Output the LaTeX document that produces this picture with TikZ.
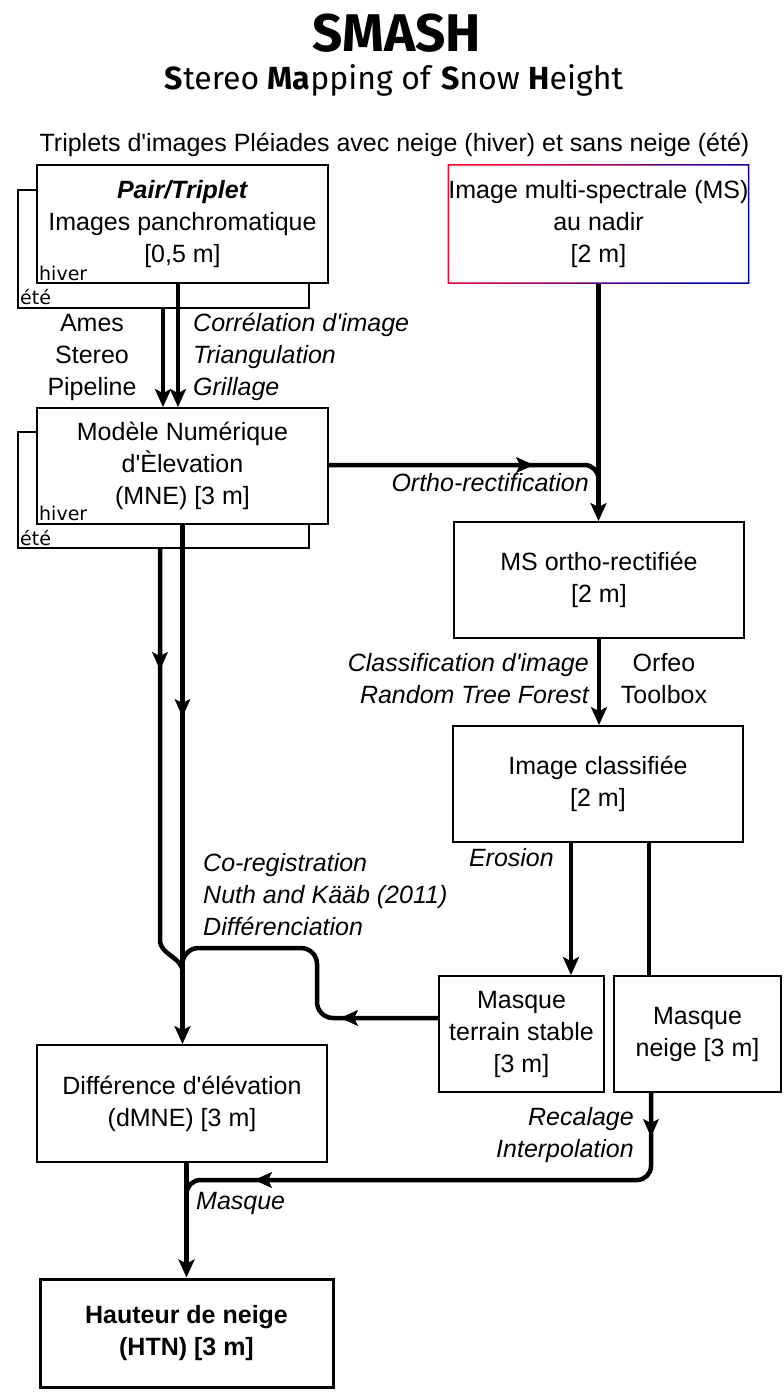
\documentclass[tikz,border=0pt]{standalone}
\usepackage{fontspec}
\setmainfont{Liberation Sans}
\newfontfamily\titlefont{Fira Sans}
\newfontfamily\smallfont{DejaVu Sans}
\usetikzlibrary{arrows.meta,decorations.markings,calc}
\newcommand{\myq}{\textquotesingle}
\tikzset{
  myhead/.tip={Stealth[length=18pt,width=16pt,inset=4pt]},
  box/.style={draw, line width=1.8pt, fill=white, minimum width=#1, minimum height=116pt,
    inner sep=0pt, align=center, font=\fontsize{25}{32}\selectfont},
  box/.default=291pt,
  lab/.style={inner sep=0pt, font=\fontsize{25}{32}\selectfont},
  ital/.style={inner sep=0pt, font=\fontsize{25}{32}\selectfont\itshape},
  season/.style={inner sep=0pt, anchor=west, font=\smallfont\fontsize{19}{22}\selectfont},
  conn/.style={line width=4.5pt},
  arr/.style={-{myhead}},
  midarr/.style={postaction={decorate, decoration={markings, mark=at position #1 with {\arrow[line width=1pt]{myhead}}}}},
}
\begin{document}
\begin{tikzpicture}[x=1pt,y=-1pt]
\useasboundingbox (0,0) rectangle (784,1393);
\fill[white] (0,0) rectangle (784,1393);

% titles
\node[inner sep=0pt, font=\titlefont\bfseries\fontsize{53}{60}\selectfont] (title) at (397,33) {SMASH};
\node[inner sep=0pt, font=\titlefont\fontsize{32}{36}\selectfont] (subtitle) at (394,80)
  {\textbf{S}tereo \textbf{Ma}pping of \textbf{S}now \textbf{H}eight};
\node[lab] (triplets) at (394.5,145) {Triplets d\myq images Pléiades avec neige (hiver) et sans neige (été)};

% boxes
\node[box, minimum height=118pt] (pairB) at (163.5,249) {};
\node[box, minimum height=118pt] (pairF) at (182.5,224) {\textbf{\textit{Pair/Triplet}}\\Images panchromatique\\{[0,5 m]}};
\node[season] (hiv1) at (39,273) {hiver};
\node[season] (ete1) at (20,297) {été};

\node[box=289pt, draw=none, minimum height=118pt] (ms) at (598.5,224) {Image multi-spectrale (MS)\\au nadir\\{[2 m]}};
\shade[left color=red!80!magenta, right color=blue!65!black, shading angle=60, even odd rule]
  (ms.north west) rectangle (ms.south east)
  ([shift={(1.6pt,-1.6pt)}]ms.north west) rectangle ([shift={(-1.6pt,1.6pt)}]ms.south east);

\node[box] (mneB) at (163.5,490) {};
\node[box] (mneF) at (182.5,466) {Modèle Numérique\\d\myq Èlevation\\(MNE) [3 m]};
\node[season] (hiv2) at (39,513) {hiver};
\node[season] (ete2) at (20,538) {été};

\node[box=290pt] (mso) at (599,580) {MS ortho-rectifiée\\{[2 m]}};
\node[box=290pt] (cls) at (598,784) {Image classifiée\\{[2 m]}};
\node[box=165pt] (mts) at (521.5,1034) {Masque\\terrain stable\\{[3 m]}};
\node[box=167pt] (mn) at (697.5,1034) {Masque\\neige [3 m]};
\node[box=290pt, minimum height=117pt] (diff) at (182,1103.5) {Différence d\myq élévation\\(dMNE) [3 m]};
\node[box=293pt, minimum height=108pt, line width=3pt, font=\bfseries\fontsize{25}{32}\selectfont] (htn) at (186.5,1333) {Hauteur de neige\\(HTN) [3 m]};

% labels
\node[lab, align=center] (ames) at (92,357) {Ames\\Stereo\\Pipeline};
\node[ital, align=left, anchor=west] (corr) at (193,357) {Corrélation d\myq image\\Triangulation\\Grillage};
\node[ital, anchor=east] (ortho) at (589,483) {Ortho-rectification};
\node[ital, align=right, anchor=east] (classif) at (589,679) {Classification d\myq image\\Random Tree Forest};
\node[lab, align=center] (orfeo) at (664,679) {Orfeo\\Toolbox};
\node[ital, anchor=east] (eros) at (554,858) {Erosion};
\node[ital, align=left, anchor=west] (coreg) at (203,895) {Co-registration\\Nuth and Kääb (2011)\\Différenciation};
\node[ital, align=right, anchor=east] (recal) at (634,1135) {Recalage\\Interpolation};
\node[ital, anchor=west] (masq) at (196,1203) {Masque};

% connectors
\draw[conn, arr] ([xshift=-4.5pt]pairF.south) -- ([xshift=-4.5pt]mneF.north);
\draw[conn, arr] ([xshift=-0.5pt]pairB.south) -- ([xshift=-19.5pt]mneF.north);

\draw[conn, arr] (ms.south) -- (ms.south |- mso.north);
\draw[conn, rounded corners=14pt, midarr=205pt] ([yshift=1pt]mneF.east) -- (ms.south |- 0,465) -- (ms.south |- 0,492);

\draw[conn, arr] (mso.south) -- (mso.south |- cls.north);
\draw[conn, arr] ([xshift=-27pt]cls.south) -- ([xshift=-27pt]cls.south |- mts.north);
\draw[conn] ([xshift=51pt]cls.south) -- ([xshift=51pt]cls.south |- mn.north);

\coordinate (join) at (mneF.south |- 0,985);
\draw[conn, arr, midarr=192pt] (mneF.south) -- (mneF.south |- diff.north);
\draw[conn, midarr=121pt] ([xshift=-3.5pt]mneB.south) -- ([xshift=-3.5pt]mneB.south |- 0,940)
  to[out=-90,in=90] (mneF.south |- 0,972);
\draw[conn, rounded corners=16pt, midarr=98pt] ([yshift=16pt]mts.west) -- (317,1018) -- (317,948)
  -- (mneF.south |- 0,948) -- (join);

\draw[conn, arr] (htn.north |- diff.south) -- (htn.north);
\draw[conn, rounded corners=14pt, midarr=44pt, midarr=478pt] ([xshift=-46.5pt]mn.south) -- ([xshift=-46.5pt]mn.south |- 0,1180)
  -- (htn.north |- 0,1180) -- (htn.north |- 0,1215);
\end{tikzpicture}
\end{document}
